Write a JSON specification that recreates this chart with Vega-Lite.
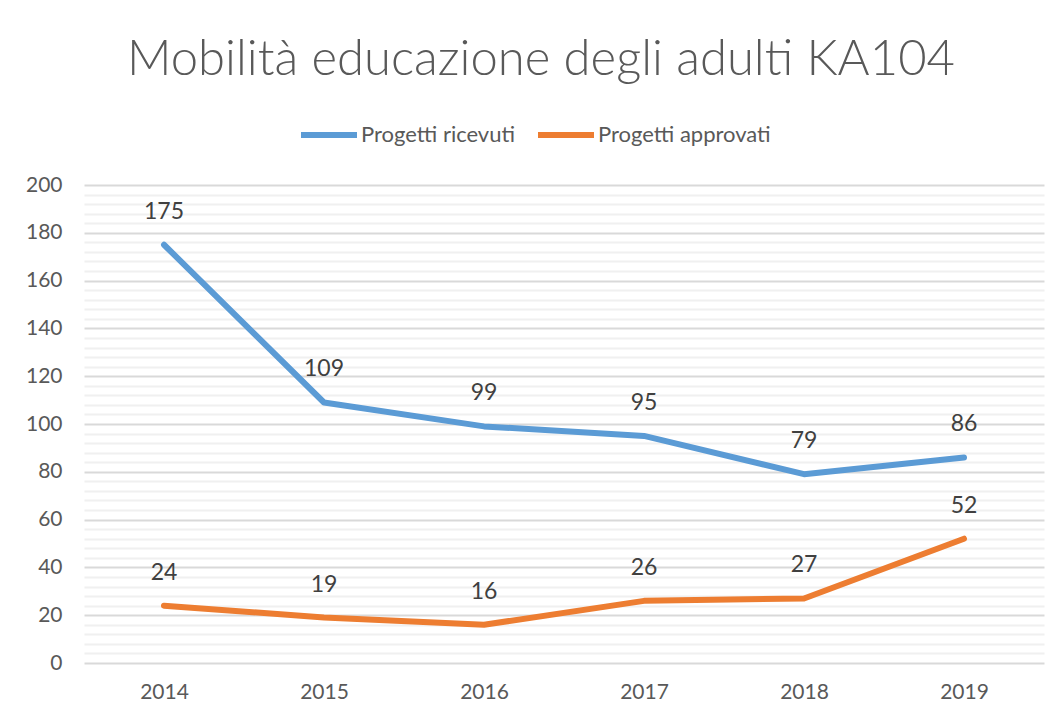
{
  "$schema": "https://vega.github.io/schema/vega-lite/v6.json",
  "autosize": {"type": "none"},
  "width": 960,
  "height": 478,
  "padding": {"left": 84, "top": 185, "right": 16, "bottom": 57},
  "background": "white",
  "title": {
    "text": "Mobilità educazione degli adulti KA104",
    "font": "Lato",
    "fontWeight": 300,
    "fontSize": 49,
    "color": "#595959",
    "anchor": "middle",
    "dx": -23,
    "offset": -20,
    "baseline": "alphabetic"
  },
  "data": {
    "values": [
      {"anno": "2014", "serie": "Progetti ricevuti", "valore": 175},
      {"anno": "2015", "serie": "Progetti ricevuti", "valore": 109},
      {"anno": "2016", "serie": "Progetti ricevuti", "valore": 99},
      {"anno": "2017", "serie": "Progetti ricevuti", "valore": 95},
      {"anno": "2018", "serie": "Progetti ricevuti", "valore": 79},
      {"anno": "2019", "serie": "Progetti ricevuti", "valore": 86},
      {"anno": "2014", "serie": "Progetti approvati", "valore": 24},
      {"anno": "2015", "serie": "Progetti approvati", "valore": 19},
      {"anno": "2016", "serie": "Progetti approvati", "valore": 16},
      {"anno": "2017", "serie": "Progetti approvati", "valore": 26},
      {"anno": "2018", "serie": "Progetti approvati", "valore": 27},
      {"anno": "2019", "serie": "Progetti approvati", "valore": 52}
    ]
  },
  "encoding": {
    "x": {
      "field": "anno",
      "type": "ordinal",
      "scale": {"type": "point", "padding": 0.5},
      "axis": {
        "title": null,
        "labelAngle": 0,
        "labelFont": "Lato",
        "labelFontSize": 21,
        "labelColor": "#595959",
        "labelPadding": 18,
        "ticks": false,
        "domain": false,
        "grid": false
      }
    },
    "y": {
      "field": "valore",
      "type": "quantitative",
      "scale": {"domain": [0, 200], "nice": false},
      "axis": {
        "title": null,
        "values": [0,4,8,12,16,20,24,28,32,36,40,44,48,52,56,60,64,68,72,76,80,84,88,92,96,100,104,108,112,116,120,124,128,132,136,140,144,148,152,156,160,164,168,172,176,180,184,188,192,196,200],
        "labelExpr": "datum.value % 20 === 0 ? datum.label : ''",
        "labelFont": "Lato",
        "labelFontSize": 21,
        "labelColor": "#595959",
        "labelPadding": 22,
        "ticks": false,
        "domain": false,
        "grid": true,
        "gridWidth": 2,
        "gridColor": {"condition": {"test": "datum.value % 20 === 0", "value": "#d9d9d9"}, "value": "#f0f0f0"}
      }
    },
    "color": {
      "field": "serie",
      "type": "nominal",
      "scale": {"domain": ["Progetti ricevuti", "Progetti approvati"], "range": ["#5B9BD5", "#ED7D31"]},
      "legend": {
        "title": null,
        "orient": "none",
        "direction": "horizontal",
        "legendX": 214,
        "legendY": -81,
        "symbolType": "stroke",
        "symbolSize": 3136,
        "symbolStrokeWidth": 6,
        "labelFont": "Lato",
        "labelFontSize": 22,
        "labelColor": "#595959",
        "labelOffset": 1,
        "labelLimit": 400,
        "columnPadding": 10
      }
    }
  },
  "layer": [
    {
      "mark": {"type": "line", "strokeWidth": 6, "strokeCap": "round", "strokeJoin": "round"}
    },
    {
      "mark": {"type": "text", "dy": -33, "font": "Lato", "fontSize": 23, "color": "#404040"},
      "encoding": {
        "text": {"field": "valore", "type": "quantitative"},
        "color": {"value": "#404040"}
      }
    }
  ],
  "config": {
    "view": {"stroke": null}
  }
}
